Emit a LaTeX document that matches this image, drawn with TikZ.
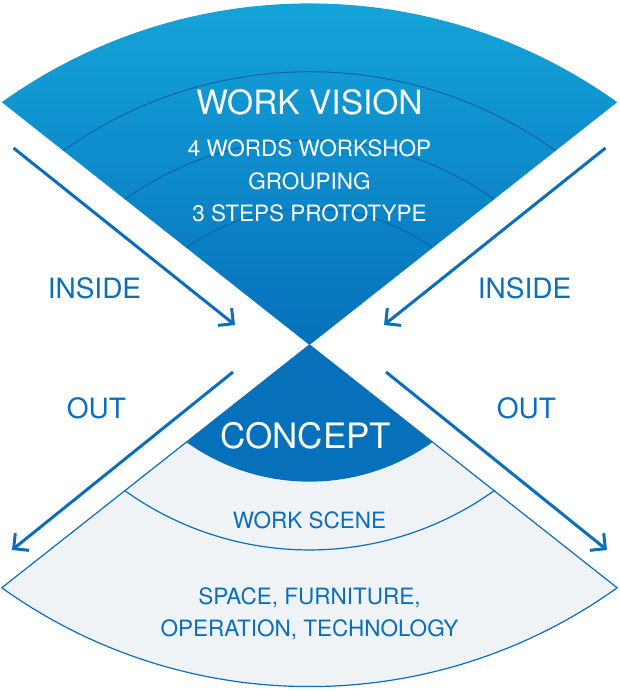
\documentclass[tikz,border=0pt]{standalone}
\usepackage{fontspec}
\setmainfont{TeX Gyre Heros}
\usetikzlibrary{arrows.meta}
\definecolor{skytop}{RGB}{22, 169, 220}
\definecolor{skybottom}{RGB}{6, 112, 187}
\definecolor{deepblue}{RGB}{6, 112, 187}
\definecolor{lineblue}{RGB}{10, 110, 189}
\definecolor{arcline}{RGB}{8, 98, 168}
\definecolor{paper}{RGB}{239, 243, 245}

\begin{document}
\begin{tikzpicture}[x=1pt, y=1pt,
  sidetext/.style={text=lineblue, anchor=base, inner sep=0, font=\fontsize{28}{28}\selectfont},
  fantext/.style={text=lineblue, anchor=base, inner sep=0, font=\fontsize{22.5}{22.5}\selectfont},
  whitetext/.style={text=white, anchor=base, inner sep=0, font=\fontsize{22.5}{22.5}\selectfont},
  flow/.style={draw=lineblue, line width=3pt, -{Straight Barb[length=11pt, width=22pt]}}]
  \useasboundingbox (-309.5, -346) rectangle (309.5, 345);

  % upper fan
  \shade [top color=skytop, bottom color=skybottom]
  (0, 0) -- (-307.7, 242.8) arc [start angle=125.6, end angle=54.4, radius=528.6] -- cycle;
  \foreach \k in {4, 3, 2} {
    \draw [color=arcline, line width=1] ({-61.54*\k}, {48.56*\k})
    arc [start angle=125.6, end angle=54.4, radius={105.72*\k}];
  }

  % lower fan
  \filldraw [fill=paper, draw=lineblue, line width=1.2]
  (0, 0) -- (-307.7, -242.8) arc [start angle=-125.6, end angle=-54.4, radius=528.6] -- cycle;
  \fill [deepblue]
  (0, 0) -- (-123.08, -97.12) arc [start angle=-125.6, end angle=-54.4, radius=211.44] -- cycle;
  \draw [color=lineblue, line width=1.2]
  (-184.62, -145.68) arc [start angle=-125.6, end angle=-54.4, radius=317.16];

  \node [whitetext, font=\fontsize{33.5}{33.5}\selectfont] (vision) at (0, 230) {WORK VISION};
  \node [whitetext] (words) at (0, 188) {4 WORDS WORKSHOP};
  \node [whitetext] (grouping) at (0, 155) {GROUPING};
  \node [whitetext] (proto) at (0, 124) {3 STEPS PROTOTYPE};

  \node [whitetext, font=\fontsize{35}{35}\selectfont] (concept) at (-3.5, -103) {CONCEPT};
  \node [fantext] (scene) at (0, -183) {WORK SCENE};
  \node [fantext] (space) at (0, -259) {SPACE, FURNITURE,};
  \node [fantext] (tech) at (0, -291) {OPERATION, TECHNOLOGY};

  \node [sidetext] (insideL) at (-215, 47) {INSIDE};
  \node [sidetext] (insideR) at (215, 47) {INSIDE};
  \node [sidetext] (outL) at (-213, -73) {OUT};
  \node [sidetext] (outR) at (217, -73) {OUT};

  % arrows
  \coordinate (inL0) at (-296, 197);
  \coordinate (inL1) at (-74.5, 20);
  \coordinate (inR0) at (296, 197);
  \coordinate (inR1) at (74.5, 20);
  \coordinate (outL0) at (-76.5, -27);
  \coordinate (outL1) at (-297.5, -205);
  \coordinate (outR0) at (76.5, -27);
  \coordinate (outR1) at (297.5, -205);
  \draw [flow] (inL0) -- (inL1);
  \draw [flow] (inR0) -- (inR1);
  \draw [flow] (outL0) -- (outL1);
  \draw [flow] (outR0) -- (outR1);
\end{tikzpicture}
\end{document}
